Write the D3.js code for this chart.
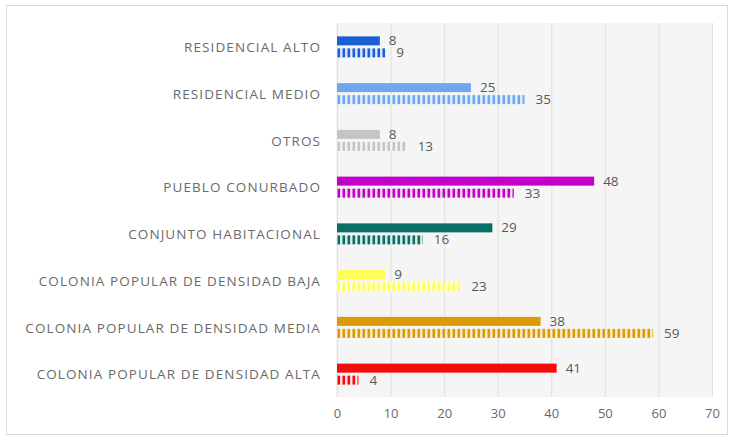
<!DOCTYPE html>
<html>
<head>
<meta charset="utf-8">
<script src="https://cdn.jsdelivr.net/npm/d3@7"></script>
<style>
  html, body { margin: 0; padding: 0; background: #ffffff; }
  svg { display: block; }
</style>
</head>
<body>
<svg id="chart" width="733" height="438"></svg>
<script>
// Housing categories, top to bottom
const categories = [
  "RESIDENCIAL ALTO",
  "RESIDENCIAL MEDIO",
  "OTROS",
  "PUEBLO CONURBADO",
  "CONJUNTO HABITACIONAL",
  "COLONIA POPULAR DE DENSIDAD BAJA",
  "COLONIA POPULAR DE DENSIDAD MEDIA",
  "COLONIA POPULAR DE DENSIDAD ALTA"
];
// First series (solid bars)
const solidValues = [8, 25, 8, 48, 29, 9, 38, 41];
// Second series (striped bars)
const stripedValues = [9, 35, 13, 33, 16, 23, 59, 4];
// Colour of each category
const barColors = ["#1a5fd6", "#6fa7ee", "#c4c4c4", "#c300c9", "#0b6e69", "#ffff59", "#dc9a06", "#f20c0c"];
const stripeTints = ["#dfe8fa", "#e6f0fc", "#f4f4f4", "#f6dcf7", "#d9ecea", "#ffffe0", "#fbedd0", "#fde0e0"];
// Axis ticks
const xTicks = [0, 10, 20, 30, 40, 50, 60, 70];

const svg = d3.select("#chart");
const font = "'Open Sans', 'Liberation Sans', sans-serif";

// outer frame
svg.append("rect")
  .attr("x", 6.5).attr("y", 5.5).attr("width", 721).attr("height", 429)
  .attr("fill", "#ffffff").attr("stroke", "#d9d9d9").attr("stroke-width", 1);

const x = d3.scaleLinear().domain([0, 70]).range([337, 712]);
const y = d3.scaleBand().domain(categories).range([23, 397]).padding(0);
const sub = d3.scaleBand().domain(["solid", "striped"]).range([0, 21]).paddingInner(0.25);

// stripe patterns, one per category
const defs = svg.append("defs");
categories.forEach((c, i) => {
  const p = defs.append("pattern")
    .attr("id", "stripe" + i)
    .attr("patternUnits", "userSpaceOnUse")
    .attr("x", x(0)).attr("y", 0)
    .attr("width", 5).attr("height", 10);
  p.append("rect").attr("width", 5).attr("height", 10).attr("fill", stripeTints[i]);
  p.append("rect").attr("x", 0.5).attr("width", 2.6).attr("height", 10).attr("fill", barColors[i]);
});

// plot background
svg.append("rect")
  .attr("x", x(0) - 1).attr("y", 23)
  .attr("width", x(70) - x(0) + 2).attr("height", 374)
  .attr("fill", "#f5f5f5");

// vertical gridlines
svg.append("g")
  .selectAll("line")
  .data(xTicks)
  .join("line")
  .attr("x1", d => x(d) + 0.5).attr("x2", d => x(d) + 0.5)
  .attr("y1", 23).attr("y2", 397)
  .attr("stroke", "#e0e0e0").attr("stroke-width", 1);

// x axis tick labels
const xAxis = d3.axisBottom(x).tickValues(xTicks).tickSize(0).tickPadding(8);
const gx = svg.append("g").attr("transform", "translate(0,401)").call(xAxis);
gx.select(".domain").remove();
gx.selectAll("text")
  .attr("fill", "#6a6a6a")
  .style("font-family", font)
  .style("font-size", "13px");

// category labels
const yAxis = d3.axisLeft(y).tickSize(0).tickPadding(0);
const gy = svg.append("g").attr("transform", "translate(321,1.5)").call(yAxis);
gy.select(".domain").remove();
gy.selectAll("text")
  .attr("fill", "#6a6a6a")
  .style("font-family", font)
  .style("font-size", "13.5px")
  .style("letter-spacing", "1.1px");

const rows = categories.map((c, i) => ({ c, i, a: solidValues[i], b: stripedValues[i] }));
const groups = svg.append("g").selectAll("g")
  .data(rows)
  .join("g")
  .attr("transform", d => `translate(0,${y(d.c) + y.bandwidth() / 2 - 10})`);

// solid bars
groups.append("rect")
  .attr("x", x(0))
  .attr("y", sub("solid"))
  .attr("width", d => x(d.a) - x(0))
  .attr("height", sub.bandwidth())
  .attr("fill", d => barColors[d.i]);

// striped bars
groups.append("rect")
  .attr("x", x(0))
  .attr("y", sub("striped"))
  .attr("width", d => x(d.b) - x(0))
  .attr("height", sub.bandwidth())
  .attr("fill", d => `url(#stripe${d.i})`);

// value labels
groups.append("text")
  .attr("x", d => x(d.a) + 9)
  .attr("y", sub("solid") + sub.bandwidth() / 2 + 1)
  .attr("dominant-baseline", "middle")
  .attr("fill", "#595959")
  .style("font-family", font)
  .style("font-size", "13.5px")
  .text(d => d.a);

groups.append("text")
  .attr("x", d => x(d.b) + 11)
  .attr("y", sub("striped") + sub.bandwidth() / 2 + 1)
  .attr("dominant-baseline", "middle")
  .attr("fill", "#595959")
  .style("font-family", font)
  .style("font-size", "13.5px")
  .text(d => d.b);
</script>
</body>
</html>
